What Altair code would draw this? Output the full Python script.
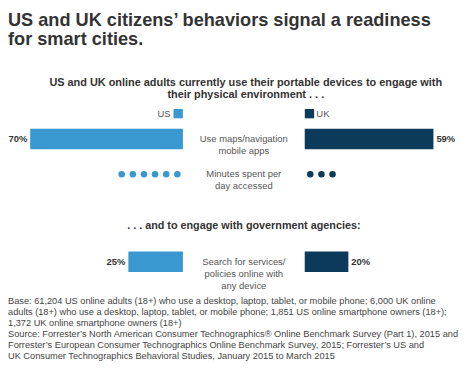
import altair as alt
import pandas as pd

# ---------------- data ----------------
title_text = "US and UK citizens’ behaviors signal a readiness\nfor smart cities."
subtitle_text = ("US and UK online adults currently use their portable devices to engage with\n"
                 "their physical environment . . .")
heading_text = ". . . and to engage with government agencies:"
countries = ["US", "UK"]
country_colors = ["#3898cf", "#0c3a5a"]

maps_label = "Use maps/navigation\nmobile apps"
maps_values = [70, 59]

minutes_label = "Minutes spent per\nday accessed"
minutes_dots = [6, 3]

search_label = "Search for services/\npolicies online with\nany device"
search_values = [25, 20]

footnote_lines = [
    "Base: 61,204 US online adults (18+) who use a desktop, laptop, tablet, or mobile phone; 6,000 UK online",
    "adults (18+) who use a desktop, laptop, tablet, or mobile phone; 1,851 US online smartphone owners (18+);",
    "1,372 UK online smartphone owners (18+)",
    "Source: Forrester’s North American Consumer Technographics® Online Benchmark Survey (Part 1), 2015 and",
    "Forrester’s European Consumer Technographics Online Benchmark Survey, 2015; Forrester’s US and",
    "UK Consumer Technographics Behavioral Studies, January 2015 to March 2015",
]

# ---------------- layout / style ----------------
W = 458
PX = 2.22           # pixels per percentage point
US_EDGE = 178.0     # inner edge of US bars
UK_EDGE = 302.0     # inner edge of UK bars
CENTER = (US_EDGE + UK_EDGE) / 2
DOT_STEP = 5.1
BAR_H = 21
TXT = "#333333"
MID = "#555555"
FONT = "Liberation Sans"


def side_scale(c):
    if c == "US":
        return alt.Scale(domain=[0, 100], range=[US_EDGE, US_EDGE - 100 * PX])
    return alt.Scale(domain=[0, 100], range=[UK_EDGE, UK_EDGE + 100 * PX])


def center_label(metric, text, lh=12.3):
    df = pd.DataFrame({"metric": [metric], "label": [text]})
    return alt.Chart(df).mark_text(
        lineBreak="\n", align="center", baseline="middle", fontSize=9.6,
        lineHeight=lh, color=MID, font=FONT
    ).encode(x=alt.value(CENTER), y=alt.Y("metric:N", axis=None), text="label:N")


def bar_row(metric, label, values, height):
    layers = []
    for c, col, v in zip(countries, country_colors, values):
        df = pd.DataFrame({"metric": [metric], "country": [c], "value": [v]})
        base = alt.Chart(df).transform_calculate(
            label="datum.value + '%'"
        ).encode(
            x=alt.X("value:Q", scale=side_scale(c), axis=None, stack=None),
            y=alt.Y("metric:N", axis=None),
        )
        layers.append(base.mark_bar(height=BAR_H, color=col))
        layers.append(base.mark_text(
            align="right" if c == "US" else "left", dx=-3 if c == "US" else 3,
            baseline="middle", fontSize=9.6, fontWeight="bold", color=TXT, font=FONT
        ).encode(text="label:N"))
    layers.append(center_label(metric, label))
    return alt.layer(*layers).resolve_scale(x="independent").properties(width=W, height=height)


def dot_row(metric, label, counts, height):
    layers = []
    for c, col, n in zip(countries, country_colors, counts):
        df = pd.DataFrame({"metric": [metric] * n, "dot": list(range(n))})
        layers.append(alt.Chart(df).transform_calculate(
            pos=f"(datum.dot + 0.5) * {DOT_STEP}"
        ).mark_circle(size=44, opacity=1, color=col).encode(
            x=alt.X("pos:Q", scale=side_scale(c), axis=None),
            y=alt.Y("metric:N", axis=None),
        ))
    layers.append(center_label(metric, label))
    return alt.layer(*layers).resolve_scale(x="independent").properties(width=W, height=height)


def legend_row(height):
    layers = []
    for c, col in zip(countries, country_colors):
        df = pd.DataFrame({"metric": ["legend"], "country": [c], "zero": [0]})
        base = alt.Chart(df).encode(
            x=alt.X("zero:Q", scale=side_scale(c), axis=None),
            y=alt.Y("metric:N", axis=None),
        )
        layers.append(base.mark_square(size=90, opacity=1, color=col,
                                       xOffset=-4.8 if c == "US" else 4.8))
        layers.append(base.mark_text(
            align="right" if c == "US" else "left", dx=-12.5 if c == "US" else 11.8,
            baseline="middle", fontSize=9.6, color=MID, font=FONT
        ).encode(text="country:N"))
    return alt.layer(*layers).resolve_scale(x="independent").properties(width=W, height=height)


def text_panel(text, height, x, y, align, **style):
    df = pd.DataFrame({"t": [text]})
    return alt.Chart(df).mark_text(
        lineBreak="\n", align=align, baseline="alphabetic", font=FONT, **style
    ).encode(x=alt.value(x), y=alt.value(y), text="t:N").properties(width=W, height=height)


title_panel = text_panel(title_text, 60, 0, 14, "left",
                         fontSize=18.5, fontWeight="bold", lineHeight=19.5, color=TXT)
subtitle_panel = text_panel(subtitle_text, 28.5, CENTER + 2, 15.1, "center",
                            fontSize=11.1, fontWeight="bold", lineHeight=12, color=TXT)
heading_panel = text_panel(heading_text, 54.3, CENTER, 31.6, "center",
                           fontSize=11, fontWeight="bold", color=TXT)
footnote_panel = text_panel("\n".join(footnote_lines), 98.4, 0, 32.9, "left",
                            fontSize=9.4, lineHeight=11.3, color="#444444")

chart = alt.vconcat(
    title_panel,
    subtitle_panel,
    legend_row(28.6),
    bar_row("maps", maps_label, maps_values, 22.2),
    dot_row("minutes", minutes_label, minutes_dots, 48),
    heading_panel,
    bar_row("search", search_label, search_values, 20),
    footnote_panel,
    spacing=0,
    bounds="flush",
).properties(padding=0, background="white").configure_view(stroke=None)

chart.save("out.html", embed_options={"renderer": "svg", "actions": False})
